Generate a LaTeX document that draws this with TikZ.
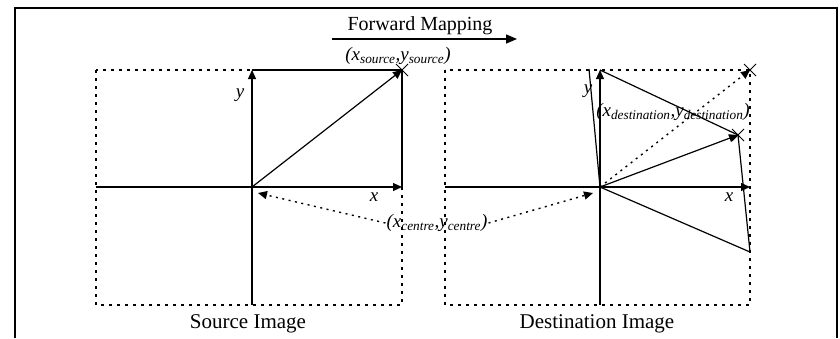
\documentclass[tikz,border=0pt]{standalone}
\usepackage{fontspec}
\setmainfont{Liberation Serif}
\usepackage{tikz}
\usetikzlibrary{arrows.meta, shapes.misc}

\newcommand\subtxt[1]{\textsubscript{\textit{#1}}}

\begin{document}
\begin{tikzpicture}[x=1pt, y=-1pt,
            axis/.style={line width=1.2pt, -{Triangle[length=9pt, width=8pt]}},
            plain/.style={line width=1.2pt},
            dotbox/.style={line width=2pt, dash pattern=on 3pt off 5pt},
            dotarrow/.style={line width=1.4pt, dash pattern=on 2pt off 4.5pt, -{Triangle[length=9pt, width=8pt]}},
            crossnode/.style={cross out, draw, line width=1pt, minimum size=11pt, inner sep=0pt},
            caption/.style={font=\fontsize{21}{24}\selectfont},
            lbl/.style={font=\fontsize{19}{22}\selectfont\itshape, inner sep=1pt}]
            \useasboundingbox (0,0) rectangle (840,338);
            % Outer frame, open at the bottom
            \draw[line width=2pt] (15,338) -- (15,8) -- (837,8) -- (837,338);

            % Forward mapping arrow
            \node[font=\fontsize{20}{24}\selectfont] (fwd) at (420,26) {Forward Mapping};
            \coordinate (fwdA) at (332,39);
            \coordinate (fwdB) at (517,39);
            \draw[line width=1.5pt, -{Triangle[length=11pt, width=9pt]}] (fwdA) -- (fwdB);

            % Source image
            \coordinate (sO) at (252,187);
            \coordinate (sL) at (96,187);
            \coordinate (sR) at (402,187);
            \coordinate (sT) at (252,70);
            \coordinate (sB) at (252,305);
            \coordinate (sP) at (402,70);
            \draw[dotbox] (96,70) rectangle (402,305);
            \draw[axis] (sL) -- (sR);
            \draw[axis] (sB) -- (sT);
            \draw[plain] (sT) -- (sP) -- (sR);
            \draw[axis] (sO) -- (sP);
            \node[crossnode] (sX) at (sP) {};
            \node[lbl] (sy) at (240,95) {y};
            \node[lbl] (sx) at (374,197) {x};
            \node[lbl] (srcl) at (398,56) {(x\subtxt{source},y\subtxt{source})};
            \node[caption] (scap) at (248,324) {Source Image};

            % Destination image
            \coordinate (dO) at (600,187);
            \coordinate (dL) at (445,187);
            \coordinate (dR) at (750,187);
            \coordinate (dT) at (600,70);
            \coordinate (dB) at (600,305);
            \coordinate (dY) at (589,69);
            \coordinate (dP) at (738,135);
            \coordinate (dQ) at (750,252);
            \coordinate (dC) at (750,70);
            \draw[dotbox] (445,70) rectangle (750,305);
            \draw[axis] (dL) -- (dR);
            \draw[axis] (dB) -- (dT);
            \draw[plain] (dY) -- (dO);
            \draw[plain] (dT) -- (dP) -- (dQ) -- (dO);
            \draw[axis] (dO) -- (dP);
            \draw[dotarrow] (dO) -- (dC);
            \node[crossnode] (dX1) at (dP) {};
            \node[crossnode] (dX2) at (dC) {};
            \node[lbl] (dy) at (588,91) {y};
            \node[lbl] (dx) at (729,197) {x};
            \node[lbl] (dstl) at (673,112) {(x\subtxt{destination},y\subtxt{destination})};
            \node[caption] (dcap) at (597,324) {Destination Image};

            % Centre label with its two pointers
            \node[lbl] (cen) at (437,223) {(x\subtxt{centre},y\subtxt{centre})};
            \draw[dotarrow] (cen.west) -- (258,193);
            \draw[dotarrow] (cen.east) -- (593,193);
        \end{tikzpicture}
\end{document}
